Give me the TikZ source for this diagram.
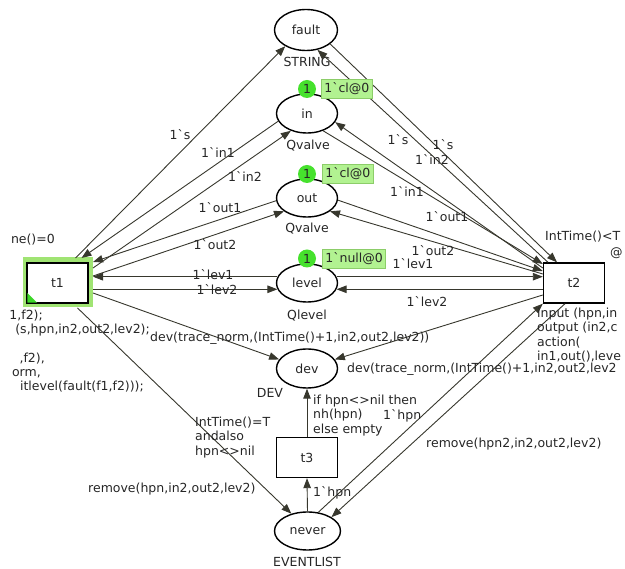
\documentclass[tikz,border=0pt]{standalone}
\usepackage{fontspec}
\newfontfamily\cpnfont{DejaVu Sans}
\usetikzlibrary{arrows.meta,shapes.geometric}

\definecolor{arcgray}{RGB}{55,55,45}
\definecolor{tokgreen}{RGB}{70,225,45}
\definecolor{markfill}{RGB}{178,242,145}
\definecolor{markedge}{RGB}{140,205,105}
\definecolor{enabled}{RGB}{160,228,115}
\definecolor{enabledcorner}{RGB}{60,215,40}

\tikzset{
  every node/.style={font=\cpnfont\fontsize{12.5}{14.3}\selectfont, inner sep=0pt, text=black!85},
  place/.style={ellipse, draw=black, line width=1.4pt, fill=white, minimum width=61pt, minimum height=39pt},
  trans/.style={rectangle, draw=black, line width=1.4pt, fill=white, minimum width=61pt, minimum height=40pt},
  arc/.style={draw=arcgray, line width=0.9pt, -{Triangle[length=10pt,width=7.5pt]}},
  lab/.style={anchor=base},
  labw/.style={anchor=base west},
  labe/.style={anchor=base east},
  code/.style={align=left, anchor=north west},
  token/.style={circle, fill=tokgreen, minimum size=18pt},
  marking/.style={draw=markedge, fill=markfill, line width=0.8pt, minimum height=19pt, inner xsep=3pt, anchor=west},
}

\begin{document}
\begin{tikzpicture}[x=1pt,y=-1pt]
\useasboundingbox (0,0) rectangle (625,569);

% highlight of the enabled transition t1
\fill[enabled] (22.5,257.5) rectangle (93,307.5);

% transitions
\node[trans, outer sep=5pt] (t1) at (57.5,283) {t1};
\fill[enabledcorner] (27.4,302.6) -- (27.4,293) -- (37,302.6) -- cycle;
\node[trans] (t2) at (574,283) {t2};
\node[trans] (t3) at (307,457.5) {t3};

% places
\node[place, minimum width=63pt, minimum height=41pt] (fault) at (306,30) {fault};
\node[place] (in) at (307,113.5) {in};
\node[place, minimum height=38pt] (out) at (307,198) {out};
\node[place, minimum height=38pt] (level) at (307,283) {level};
\node[place] (dev) at (307,368.5) {dev};
\node[place, minimum width=66pt, minimum height=38pt] (never) at (307.5,531) {never};

% colour sets
\node[lab] (cs1) at (307,66.5) {STRING};
\node[lab] (cs2) at (308,149.5) {Qvalve};
\node[lab] (cs3) at (307,232.5) {Qvalve};
\node[lab] (cs4) at (307,319.5) {Qlevel};
\node[lab] (cs5) at (270,397.5) {DEV};
\node[lab] (cs6) at (307,566.5) {EVENTLIST};

% arcs around t1
\draw[arc] ([xshift=18pt]t1.north) -- (fault.218);
\draw[arc] (in.195) -- ([xshift=24pt]t1.north);
\draw[arc] ([yshift=15pt]t1.east) -- (in.227);
\draw[arc] (out.185) -- ([yshift=21pt]t1.east);
\draw[arc] ([yshift=7pt]t1.east) -- (out.210);
\draw[arc] (level.168) -- (t1.east |- level.168);
\draw[arc] (t1.east |- level.192) -- (level.192);
\draw[arc] ([yshift=-10pt]t1.east) -- (dev.162);
\draw[arc] ([xshift=20pt]t1.south) -- (never.133);

% arcs around t2
\draw[arc] (fault.330) -- ([xshift=-17pt]t2.north);
\draw[arc] ([xshift=-26pt]t2.north) -- (fault.300);
\draw[arc] (in.313) -- ([yshift=19pt]t2.west);
\draw[arc] ([yshift=15pt]t2.west) -- (in.343);
\draw[arc] (out.356) -- ([yshift=12pt]t2.west);
\draw[arc] ([yshift=9pt]t2.west) -- (out.330);
\draw[arc] (level.12) -- (t2.west |- level.12);
\draw[arc] (t2.west |- level.348) -- (level.348);
\draw[arc] ([yshift=-12pt]t2.west) -- (dev.18);
\draw[arc] (never.60) -- (t2.south west);
\draw[arc] ([xshift=-9pt]t2.south) -- (never.30);

% arcs around t3
\draw[arc] (never.north) -- (t3.south);
\draw[arc] (t3.north) -- (dev.south);

% current markings
\node[token] (tin) at (307,89) {1};
\node[marking] (min) at (321,89) {1`cl@0};
\node[token] (tout) at (307,174) {1};
\node[marking] (mout) at (322,174) {1`cl@0};
\node[token] (tlev) at (307,258.5) {1};
\node[marking] (mlev) at (322,259) {1`null@0};

% arc inscriptions, t1 side
\node[lab] (a1) at (180,139.5) {1`s};
\node[lab] (a2) at (218,157.5) {1`in1};
\node[lab] (a3) at (245,181.5) {1`in2};
\node[lab] (a4) at (220,212.5) {1`out1};
\node[lab] (a5) at (215,249.5) {1`out2};
\node[lab] (a6) at (213,279.5) {1`lev1};
\node[lab] (a7) at (217,294.5) {1`lev2};
\node[labw] (a8) at (150,341.5) {dev(trace\_norm,(IntTime()+1,in2,out2,lev2))};
\node[labw] (a9) at (88,492.5) {remove(hpn,in2,out2,lev2)};

% arc inscriptions, t2 side
\node[lab] (b1) at (398,144.5) {1`s};
\node[lab] (b2) at (443,149.5) {1`s};
\node[lab] (b3) at (432,164.5) {1`in2};
\node[lab] (b4) at (407,196.5) {1`in1};
\node[lab] (b5) at (447,221.5) {1`out1};
\node[lab] (b6) at (433,255.5) {1`out2};
\node[lab] (b7) at (413,268.5) {1`lev1};
\node[lab] (b8) at (427,306.5) {1`lev2};
\node[labw] (b9) at (347,372.5) {dev(trace\_norm,(IntTime()+1,in2,out2,lev2};
\node[labw] (b10) at (383,419.5) {1`hpn};
\node[labw] (b11) at (426,447.5) {remove(hpn2,in2,out2,lev2)};

% arc inscriptions, t3
\node[code] (c1) at (313,395) {if hpn<>nil then\\nh(hpn)\\else empty};
\node[labw] (c2) at (313,496.5) {1`hpn};

% guards and code segments
\node[code] (g1) at (195,417) {IntTime()=T\\andalso\\hpn<>nil};
\node[labe] (g2) at (55,243.5) {ne()=0};
\node[labe] (s1) at (43,319.5) {1,f2);};
\node[labe] (s2) at (150,333.8) {(s,hpn,in2,out2,lev2);};
\node[labe] (s3) at (45,362.4) {,f2),};
\node[labe] (s4) at (41,376.7) {orm,};
\node[labe] (s5) at (144,391) {itlevel(fault(f1,f2)));};
\node[labw] (g3) at (545,240.5) {IntTime()<T};
\node[labw] (g4) at (610,256.5) {@};
\node[code] (s6) at (537,308) {input (hpn,in\\output (in2,c\\action(\\in1,out(),leve};
\end{tikzpicture}
\end{document}
